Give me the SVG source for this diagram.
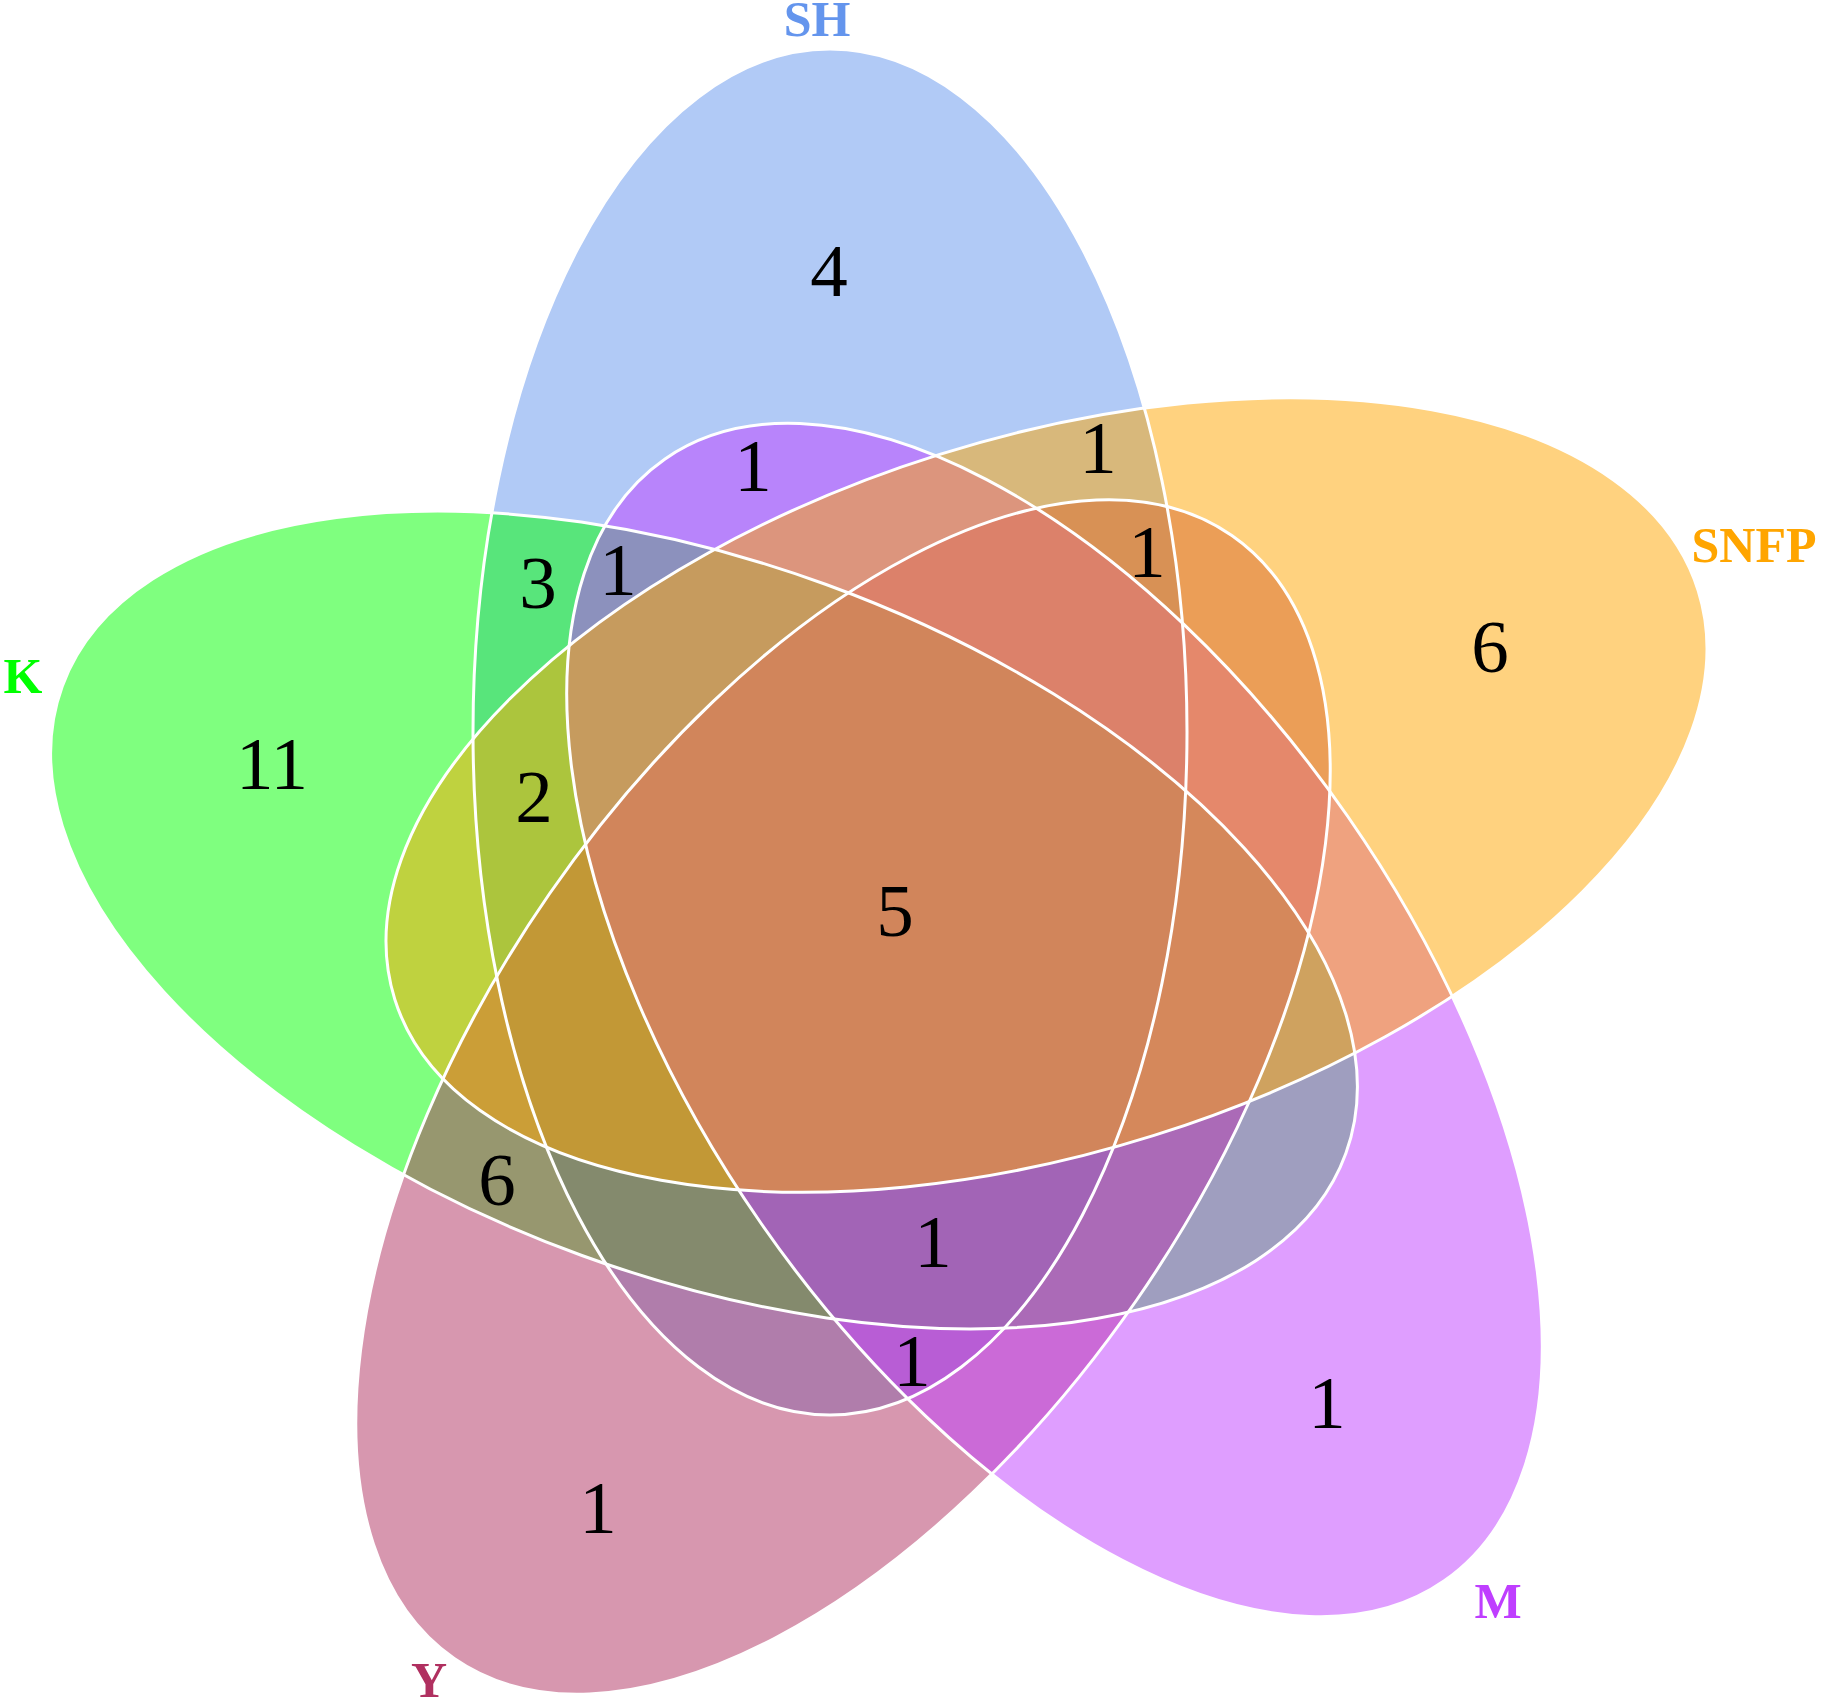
<svg xmlns="http://www.w3.org/2000/svg" xmlns:xlink="http://www.w3.org/1999/xlink" width="1821" height="1701" viewBox="0 0 1821 1701">
<style>
.area{fill-opacity:0.5;stroke:none}
.edge{fill:none;stroke:#ffffff;stroke-width:3}
.num{font-family:"Liberation Serif","Times New Roman",serif;font-size:75px;text-anchor:middle;fill:#000000}
.cat{font-family:"Liberation Serif","Times New Roman",serif;font-size:50px;font-weight:bold;text-anchor:middle}
</style>
<defs>
<ellipse id="eSH" cx="830" cy="732" rx="357" ry="683"/>
<ellipse id="eK" cx="704" cy="920" rx="683" ry="357" transform="rotate(20 704 920)"/>
<ellipse id="eY" cx="843" cy="1097" rx="683" ry="357" transform="rotate(-55.3 843 1097)"/>
<ellipse id="eM" cx="1054.5" cy="1020" rx="683" ry="357" transform="rotate(55.2 1054.5 1020)"/>
<ellipse id="eSNFP" cx="1046.5" cy="795" rx="683" ry="357" transform="rotate(-17.4 1046.5 795)"/>
</defs>
<rect width="1821" height="1701" fill="#ffffff"/>
<g id="set-SH">
<use xlink:href="#eSH" class="area" fill="#6495ED"/>
<text class="cat" x="817" y="36" fill="#6495ED">SH</text>
</g>
<g id="set-K">
<use xlink:href="#eK" class="area" fill="#00FF00"/>
<text class="cat" x="23" y="693" fill="#00FF00">K</text>
</g>
<g id="set-Y">
<use xlink:href="#eY" class="area" fill="#B03060"/>
<text class="cat" x="429" y="1697" fill="#B03060">Y</text>
</g>
<g id="set-M">
<use xlink:href="#eM" class="area" fill="#BF3EFF"/>
<text class="cat" x="1498" y="1618" fill="#BF3EFF">M</text>
</g>
<g id="set-SNFP">
<use xlink:href="#eSNFP" class="area" fill="#FFA500"/>
<text class="cat" x="1754" y="562" fill="#FFA500">SNFP</text>
</g>
<g id="outlines">
<use xlink:href="#eSH" class="edge"/>
<use xlink:href="#eK" class="edge"/>
<use xlink:href="#eY" class="edge"/>
<use xlink:href="#eM" class="edge"/>
<use xlink:href="#eSNFP" class="edge"/>
</g>
<g id="counts">
<text class="num" x="829" y="296">4</text>
<text class="num" x="753" y="491">1</text>
<text class="num" x="1098" y="473">1</text>
<text class="num" x="1147" y="577">1</text>
<text class="num" x="538" y="608">3</text>
<text class="num" x="618" y="595">1</text>
<text class="num" x="1490" y="672">6</text>
<text class="num" x="272" y="789">11</text>
<text class="num" x="534" y="822">2</text>
<text class="num" x="895" y="936">5</text>
<text class="num" x="497" y="1205">6</text>
<text class="num" x="933" y="1267">1</text>
<text class="num" x="912" y="1386">1</text>
<text class="num" x="1327" y="1428">1</text>
<text class="num" x="598" y="1533">1</text>
</g>
</svg>
